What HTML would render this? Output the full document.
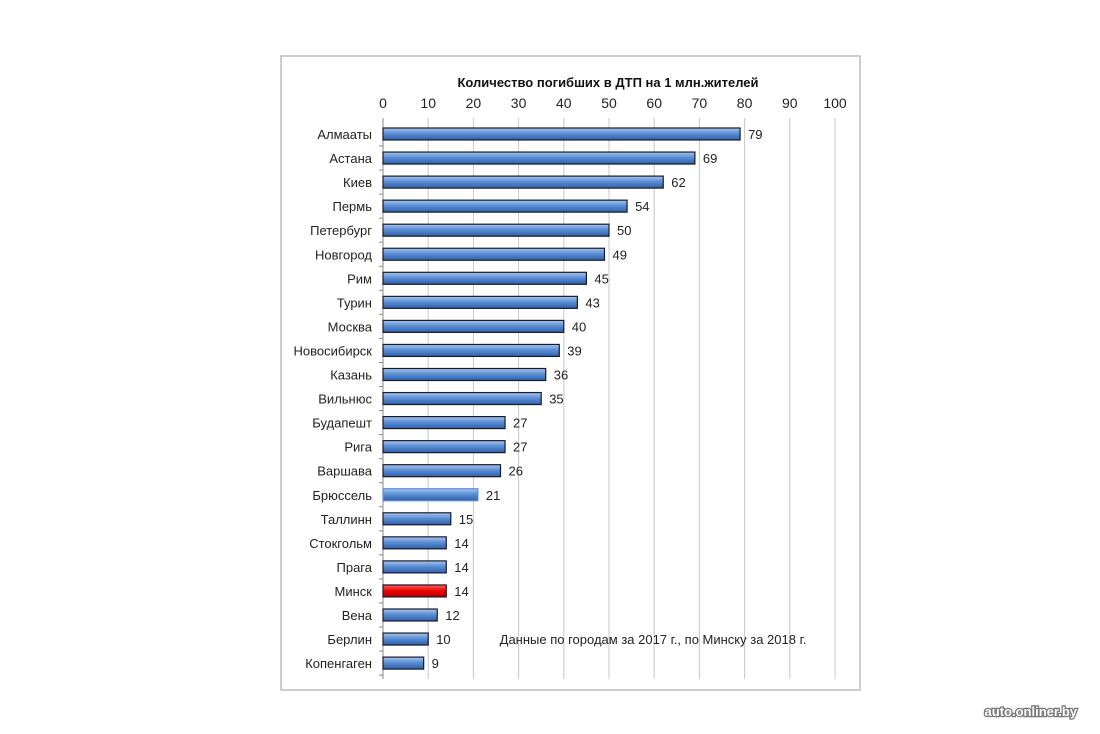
<!DOCTYPE html>
<html><head><meta charset="utf-8"><style>
html,body{margin:0;padding:0;background:#fff;}
svg{display:block;font-family:"Liberation Sans","DejaVu Sans",sans-serif;}
</style></head><body>
<svg width="1100" height="734" viewBox="0 0 1100 734" xmlns="http://www.w3.org/2000/svg">
<defs>
<linearGradient id="b" x1="0" y1="0" x2="0" y2="1">
<stop offset="0" stop-color="#a9c6ec"/><stop offset="0.45" stop-color="#5b8fd6"/><stop offset="1" stop-color="#2f5fa8"/>
</linearGradient>
<linearGradient id="r" x1="0" y1="0" x2="0" y2="1">
<stop offset="0" stop-color="#ff6060"/><stop offset="0.5" stop-color="#ee0000"/><stop offset="1" stop-color="#b00000"/>
</linearGradient>
</defs>
<rect x="281" y="56" width="579" height="634" fill="#fff" stroke="#bdbdbd" stroke-width="1.5"/>
<text x="608" y="87" font-size="13" font-weight="bold" text-anchor="middle" fill="#111">Количество погибших в ДТП на 1 млн.жителей</text>
<g id="grid" stroke="#c8c8c8" stroke-width="1"></g>
<g id="ticks" font-size="14" fill="#222" text-anchor="middle"></g>
<g id="bars"></g>
<text x="653" y="644" font-size="13" text-anchor="middle" fill="#222">Данные по городам за 2017 г., по Минску за 2018 г.</text>
<text x="1077" y="716" font-size="13" font-weight="bold" text-anchor="end" fill="#fff" stroke="#777" stroke-width="2.5" paint-order="stroke">auto.onliner.by</text>
</svg>
<script>
var ns="http://www.w3.org/2000/svg";
function el(t,a,p,txt){var e=document.createElementNS(ns,t);for(var k in a)e.setAttribute(k,a[k]);if(txt!==undefined)e.textContent=txt;document.getElementById(p).appendChild(e);return e;}
var x0=383,sc=4.52;
for(var i=0;i<=10;i++){var x=x0+i*10*sc;el("line",{x1:x,y1:118,x2:x,y2:679},"grid");el("text",{x:x,y:108},"ticks",String(i*10));}
el("line",{x1:x0,y1:118,x2:x0,y2:679,stroke:"#888"},"grid");
var d=[["Алмааты",79],["Астана",69],["Киев",62],["Пермь",54],["Петербург",50],["Новгород",49],["Рим",45],["Турин",43],["Москва",40],["Новосибирск",39],["Казань",36],["Вильнюс",35],["Будапешт",27],["Рига",27],["Варшава",26],["Брюссель",21],["Таллинн",15],["Стокгольм",14],["Прага",14],["Минск",14],["Вена",12],["Берлин",10],["Копенгаген",9]];
d.forEach(function(r,i){var y=134+i*24.05;
el("line",{x1:x0-4,y1:y+12,x2:x0,y2:y+12,stroke:"#888"},"grid");
el("text",{x:372,y:y+5,"font-size":13,"text-anchor":"end",fill:"#222"},"bars",r[0]);
var w=r[1]*sc;
el("rect",{x:x0,y:y-6,width:w,height:12,fill:r[0]=="Минск"?"url(#r)":"url(#b)",stroke:r[1]==21?"#5b8fd6":"#1a1a2a","stroke-width":1.2},"bars");
el("text",{x:x0+w+8,y:y+5,"font-size":13,fill:"#222"},"bars",String(r[1]));
});
</script>
</body></html>
